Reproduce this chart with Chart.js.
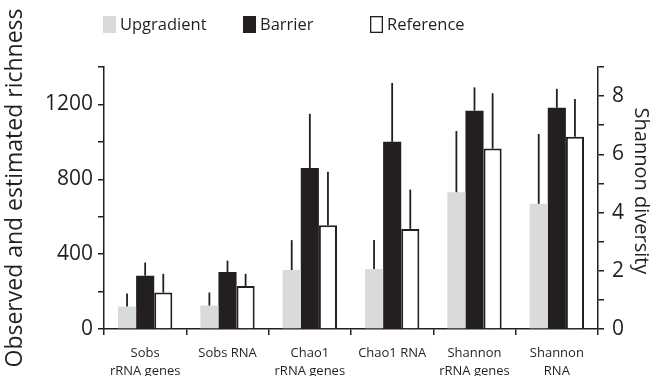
<!DOCTYPE html>
<html>
<head>
<meta charset="utf-8">
<script src="https://cdn.jsdelivr.net/npm/chart.js@4/dist/chart.umd.min.js"></script>
<style>
  html, body { margin: 0; padding: 0; background: #fff; }
  #wrap { width: 659px; height: 376px; position: relative; }
</style>
</head>
<body>
<div id="wrap"><canvas id="c" width="659" height="376"></canvas></div>
<script>
// Categories along the x axis
const categories = [['Sobs', 'rRNA genes'], 'Sobs RNA', ['Chao1', 'rRNA genes'], 'Chao1 RNA', ['Shannon', 'rRNA genes'], ['Shannon', 'RNA']];
const seriesNames = ['Upgradient', 'Barrier', 'Reference'];

// Observed and estimated richness (left axis): Sobs and Chao1 groups
const upgradientRichness = [120, 125, 315, 320, null, null];
const barrierRichness    = [285, 305, 860, 1000, null, null];
const referenceRichness  = [195, 230, 555, 535, null, null];
const upgradientRichnessErr = [70, 70, 160, 155, null, null];
const barrierRichnessErr    = [70, 60, 290, 315, null, null];
const referenceRichnessErr  = [100, 65, 285, 210, null, null];

// Shannon diversity (right axis): Shannon groups
const upgradientShannon = [null, null, null, null, 4.7, 4.3];
const barrierShannon    = [null, null, null, null, 7.5, 7.6];
const referenceShannon  = [null, null, null, null, 6.2, 6.6];
const upgradientShannonErr = [null, null, null, null, 2.1, 2.4];
const barrierShannonErr    = [null, null, null, null, 0.8, 0.65];
const referenceShannonErr  = [null, null, null, null, 1.9, 1.3];

// Axis ranges and labelled ticks
const richnessMax = 1400, richnessStep = 200, richnessLabelEvery = 400;
const shannonMax = 9, shannonStep = 1, shannonLabelEvery = 2;
const leftTitle = 'Observed and estimated richness';
const rightTitle = 'Shannon diversity';

const ink = '#231f20';
const grey = '#d9dadb';
const FONT = "'Open Sans', 'DejaVu Sans', sans-serif";

function barSet(label, data, errors, axis, stack, style) {
  return Object.assign({
    label, data, errors, yAxisID: axis, stack,
    borderSkipped: 'start'
  }, style);
}
const styles = {
  U: { backgroundColor: grey, borderWidth: 0 },
  B: { backgroundColor: ink, borderWidth: 0 },
  R: { backgroundColor: '#ffffff', borderColor: ink, borderWidth: 2 }
};

// Vertical whiskers above each bar (upper error only)
const errorBars = {
  id: 'errorBars',
  afterDatasetsDraw(chart) {
    const ctx = chart.ctx;
    chart.data.datasets.forEach((ds, i) => {
      const meta = chart.getDatasetMeta(i);
      const scale = chart.scales[ds.yAxisID];
      meta.data.forEach((bar, j) => {
        const v = ds.data[j], e = ds.errors[j];
        if (v == null || e == null) return;
        const top = scale.getPixelForValue(v + e);
        ctx.save();
        ctx.strokeStyle = ink;
        ctx.lineWidth = 1.8;
        ctx.beginPath();
        ctx.moveTo(bar.x, bar.y);
        ctx.lineTo(bar.x, top);
        ctx.stroke();
        ctx.restore();
      });
    });
  }
};

// Legend row and the two rotated axis titles
const decorations = {
  id: 'decorations',
  afterDraw(chart) {
    const ctx = chart.ctx;
    const itemX = [103, 243, 370];
    const boxTop = 16, boxW = 13, boxH = 17;
    const fills = [grey, ink, '#ffffff'];
    ctx.save();
    ctx.font = '16.5px ' + FONT;
    ctx.textBaseline = 'middle';
    ctx.fillStyle = ink;
    seriesNames.forEach((name, k) => {
      const x = itemX[k];
      ctx.fillStyle = fills[k];
      ctx.fillRect(x, boxTop, boxW, boxH);
      if (k === 2) {
        ctx.strokeStyle = ink;
        ctx.lineWidth = 1.3;
        ctx.strokeRect(x + 0.65, boxTop + 0.65, boxW - 1.3, boxH - 1.3);
      }
      ctx.fillStyle = ink;
      ctx.fillText(name, x + boxW + 4, boxTop + boxH / 2 + 1);
    });

    ctx.textAlign = 'center';
    ctx.font = '23px ' + FONT;
    ctx.save();
    ctx.translate(15, 188);
    ctx.rotate(-Math.PI / 2);
    ctx.fillText(leftTitle, 0, 0);
    ctx.restore();

    ctx.font = '20px ' + FONT;
    ctx.save();
    ctx.translate(641, 191);
    ctx.rotate(Math.PI / 2);
    ctx.fillText(rightTitle, 0, 0);
    ctx.restore();
    ctx.restore();
  }
};

const axisGrid = { display: true, drawOnChartArea: false, drawTicks: true, tickLength: 6, color: ink, lineWidth: 1.5 };
const axisBorder = { display: true, color: ink, width: 1.5 };

new Chart(document.getElementById('c'), {
  type: 'bar',
  data: {
    labels: categories,
    datasets: [
      barSet(seriesNames[0], upgradientRichness, upgradientRichnessErr, 'yL', 'U', styles.U),
      barSet(seriesNames[1], barrierRichness, barrierRichnessErr, 'yL', 'B', styles.B),
      barSet(seriesNames[2], referenceRichness, referenceRichnessErr, 'yL', 'R', styles.R),
      barSet(seriesNames[0], upgradientShannon, upgradientShannonErr, 'yR', 'U', styles.U),
      barSet(seriesNames[1], barrierShannon, barrierShannonErr, 'yR', 'B', styles.B),
      barSet(seriesNames[2], referenceShannon, referenceShannonErr, 'yR', 'R', styles.R)
    ]
  },
  options: {
    responsive: false,
    animation: false,
    devicePixelRatio: 1,
    categoryPercentage: 0.66,
    barPercentage: 1.0,
    layout: { padding: { top: 67, left: 0, right: 0, bottom: 0 } },
    plugins: { legend: { display: false }, tooltip: { enabled: false } },
    scales: {
      x: {
        type: 'category',
        offset: true,
        grid: Object.assign({ offset: true }, axisGrid),
        border: axisBorder,
        ticks: { color: ink, font: { family: FONT, size: 13, lineHeight: 1.4 }, padding: 9, maxRotation: 0, autoSkip: false },
        afterFit(s) { s.height = 47; }
      },
      yL: {
        position: 'left',
        stacked: false,
        min: 0, max: richnessMax,
        grid: axisGrid,
        border: axisBorder,
        ticks: {
          stepSize: richnessStep,
          color: ink,
          font: { family: FONT, size: 21 },
          padding: 5,
          callback: v => (v % richnessLabelEvery === 0 ? v : '')
        },
        afterFit(s) { s.width = 104; }
      },
      yR: {
        position: 'right',
        stacked: false,
        min: 0, max: shannonMax,
        grid: axisGrid,
        border: axisBorder,
        ticks: {
          stepSize: shannonStep,
          color: ink,
          font: { family: FONT, size: 21 },
          padding: 8,
          callback: v => (v % shannonLabelEvery === 0 ? v : '')
        },
        afterFit(s) { s.width = 61; }
      }
    }
  },
  plugins: [errorBars, decorations]
});
</script>
</body>
</html>
